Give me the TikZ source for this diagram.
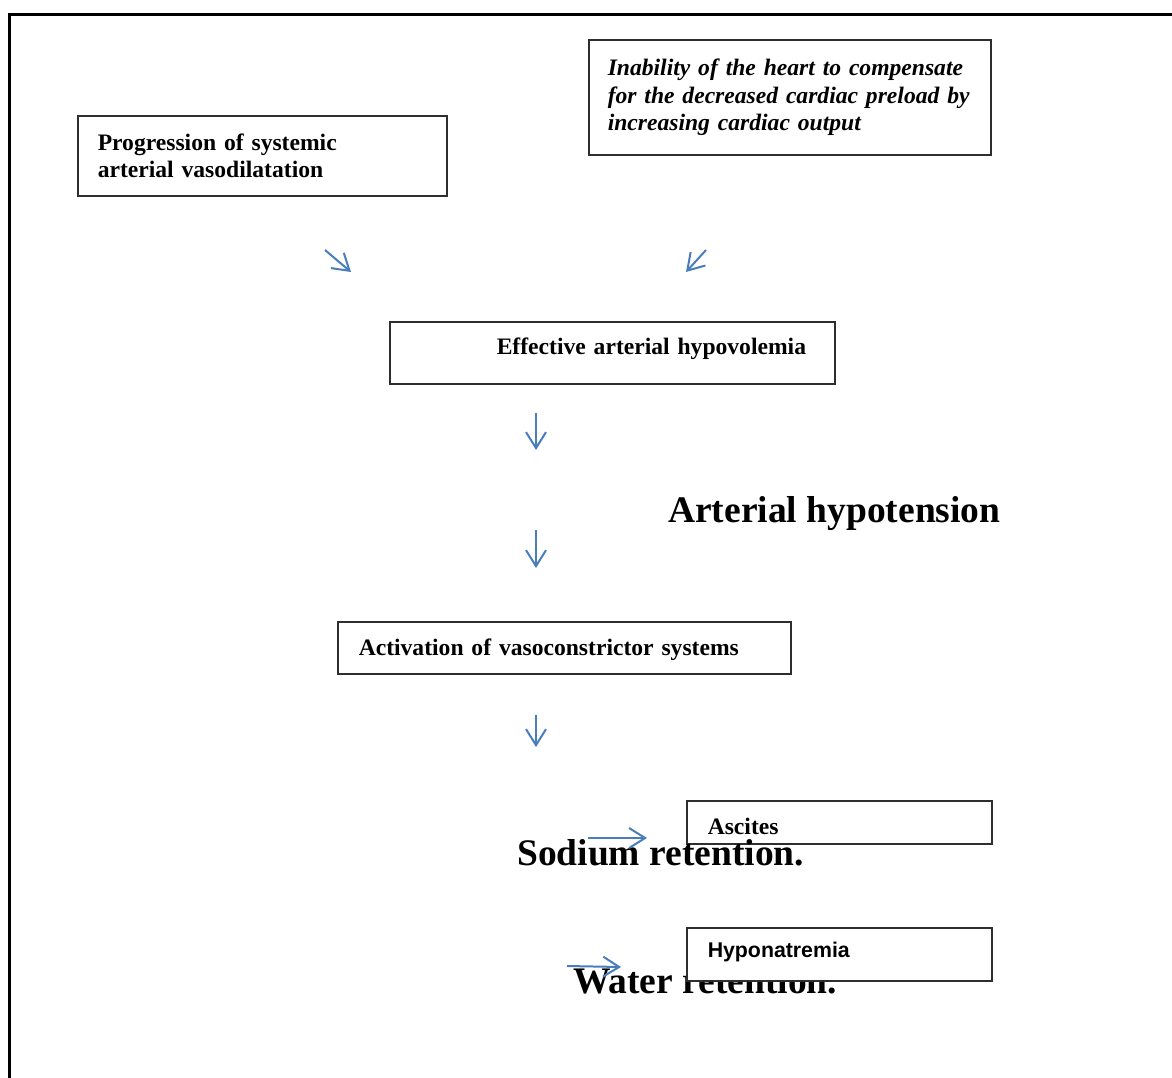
\documentclass[tikz,border=0pt]{standalone}
\usepackage{fontspec}
\setmainfont{Liberation Serif}
\newfontfamily\arialfont{Liberation Sans}
\usepackage{tikz}
\usetikzlibrary{arrows.meta}
\definecolor{arrowblue}{HTML}{4A7EBB}
\definecolor{boxline}{HTML}{2E2E2E}
\newcommand{\smalltext}{\fontsize{23.6}{27.6}\selectfont\bfseries}
\newcommand{\bigtext}{\fontsize{37.5}{41}\selectfont\bfseries}

\begin{document}
\begin{tikzpicture}[x=1pt,y=-1pt,
		box/.style={draw=boxline,line width=1.5,fill=white,anchor=north west,align=left,inner xsep=20,inner ysep=0,font=\smalltext},
		bigword/.style={anchor=base west,inner sep=0,font=\bigtext},
		flowarrow/.style={draw=arrowblue,line width=2,-{Straight Barb[length=16,width=20,line width=2]}}]
		\useasboundingbox (0,0) rectangle (1172,1077);
		\draw [line width=3] (9,1090)--(9,14)--(1180,14);
		% boxes of the upper part
		\node [box,text width=329,minimum height=80] (prog) at (77,115)
			{Progression of systemic\\arterial vasodilatation};
		\node [box,text width=364,minimum height=115,inner xsep=19,font=\smalltext\itshape] (heart) at (588,39)
			{\mbox{Inability of the heart to compensate}\\\mbox{for the decreased cardiac preload by}\\\mbox{increasing cardiac output}};
		\node [box,text width=405,text height=33,text depth=29] (hypo) at (389,321)
			{\hspace*{87pt}Effective arterial hypovolemia};
		\node [bigword] (hypot) at (668,522) {Arterial hypotension};
		\node [box,text width=411,text height=34,text depth=18,inner xsep=21] (vaso) at (337,621)
			{Activation of vasoconstrictor systems};
		% lower part
		\node [box,text width=263,text height=34,text depth=9,inner xsep=21] (asc) at (686,800) {Ascites};
		\node [bigword] (sod) at (517,865) {Sodium retention.};
		\node [bigword] (wat) at (573,993) {Water retention.};
		\node [box,text width=263,text height=30,text depth=23,inner xsep=21,font=\arialfont\fontsize{21.3}{25}\selectfont\bfseries] (hyn) at (686,927) {Hyponatremia};
		% arrows
		\coordinate (a1) at (325,250); \coordinate (b1) at (351,272);
		\coordinate (a2) at (706,250); \coordinate (b2) at (686,272);
		\coordinate (a3) at (536,413); \coordinate (b3) at (536,450);
		\coordinate (a4) at (536,530); \coordinate (b4) at (536,568);
		\coordinate (a5) at (536,715); \coordinate (b5) at (536,747);
		\coordinate (a6) at (588,838); \coordinate (b6) at (647,838);
		\coordinate (a7) at (567,966); \coordinate (b7) at (621,967);
		\foreach \i in {1,...,7}
			\draw [flowarrow] (a\i)--(b\i);
	\end{tikzpicture}
\end{document}
